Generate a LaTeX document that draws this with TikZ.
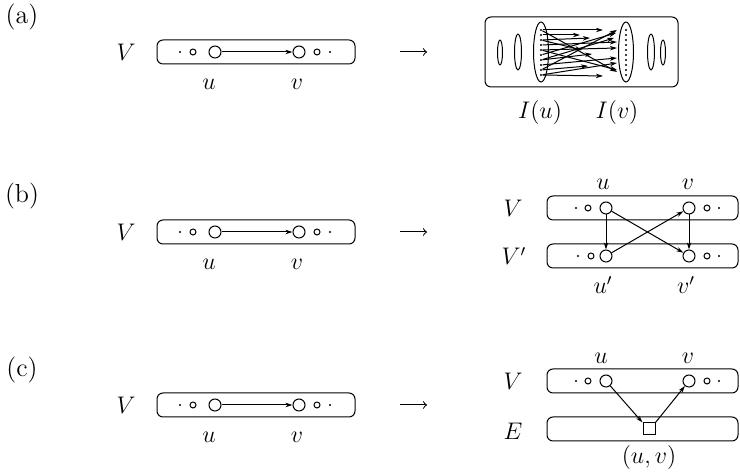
\documentclass[tikz,border=0pt]{standalone}
\usetikzlibrary{arrows.meta,shapes.geometric}
\begin{document}
\begin{tikzpicture}[x=0.5pt,y=-0.5pt,
  line width=0.5pt,
  every node/.style={font=\fontsize{11.5}{13}\selectfont},
  panel/.style={font=\fontsize{13}{15}\selectfont},
  setbox/.style={draw, rounded corners=3pt, inner sep=0pt},
  bigv/.style={draw, circle, minimum size=6pt, inner sep=0pt},
  smallv/.style={draw, circle, minimum size=3pt, inner sep=0pt},
  tinyv/.style={fill, circle, minimum size=1.1pt, inner sep=0pt},
  oval/.style={draw, ellipse, inner sep=0pt},
  edge/.style={-{Stealth[length=3.5pt,width=2.2pt,inset=1pt]}},
  maparrow/.style={-to},
]
\useasboundingbox (0,0) rectangle (740,474);

% panel letters
\node[panel] (pa) at (22,17) {(a)};
\node[panel] (pb) at (22,196) {(b)};
\node[panel] (pc) at (22,370) {(c)};

% left column: the vertex set V with one edge u -> v, and the map arrow
\foreach \r/\yy in {a/52,b/232,c/405} {
  \node[setbox, minimum width=99pt, minimum height=12pt] (L\r box) at (256,\yy) {};
  \node (L\r V) at (126,\yy) {$V$};
  \node[tinyv]  (L\r d1) at (180,\yy) {};
  \node[smallv] (L\r s1) at (193,\yy) {};
  \node[bigv]   (L\r u)  at (215,\yy) {};
  \node[bigv]   (L\r v)  at (299,\yy) {};
  \node[smallv] (L\r s2) at (317,\yy) {};
  \node[tinyv]  (L\r d2) at (330,\yy) {};
  \draw[edge] (L\r u) -- (L\r v);
  \node (L\r ul) at (209,\yy+32) {$u$};
  \node (L\r vl) at (297,\yy+32) {$v$};
  \coordinate (M\r a) at (400,\yy);
  \coordinate (M\r b) at (427,\yy);
  \draw[maparrow] (M\r a) -- (M\r b);
}

% (a) right: intervals I(u), I(v) joined by many arcs
\node[setbox, minimum width=96.5pt, minimum height=35pt] (Rabox) at (581.5,52) {};
\node[oval, minimum width=2.5pt, minimum height=12.5pt] (o1) at (500,52.5) {};
\node[oval, minimum width=3.5pt, minimum height=18pt] (o2) at (518,52) {};
\node[oval, minimum width=7.5pt, minimum height=30pt] (Iu) at (541,52) {};
\node[oval, minimum width=7.5pt, minimum height=30pt] (Iv) at (626,52) {};
\node[oval, minimum width=3.5pt, minimum height=18pt] (o3) at (651,52) {};
\node[oval, minimum width=2.5pt, minimum height=12.5pt] (o4) at (663,52.5) {};
\foreach \i in {1,...,10} {
  \node[tinyv] (Ld\i) at (541,25+5*\i) {};
  \node[tinyv] (Rd\i) at (626,25+5*\i) {};
}
\foreach \s/\ex/\ey [count=\k] in {
  1/603/30, 1/617/72, 2/580/35, 3/590/38, 4/617/42, 5/617/48,
  6/616/33, 7/592/54, 9/617/30, 8/617/58, 9/588/66, 10/603/76,
  5/617/70, 10/617/63, 3/582/50, 7/614/38} {
  \coordinate (T\k) at (\ex,\ey);
  \draw[edge] (Ld\s) -- (T\k);
}
\node (Iul) at (540,113) {$I(u)$};
\node (Ivl) at (617,113) {$I(v)$};

% (b) right: two copies V and V'
\node[setbox, minimum width=95.5pt, minimum height=12pt] (RbV)  at (642.5,208) {};
\node[setbox, minimum width=95.5pt, minimum height=12pt] (RbVp) at (642.5,256) {};
\node (RbVl)  at (513,208) {$V$};
\node (RbVpl) at (514,256) {$V'$};
\node[tinyv]  (bd1) at (576,208) {};
\node[smallv] (bs1) at (588,208) {};
\node[bigv]   (bu)  at (606,208) {};
\node[bigv]   (bv)  at (689,208) {};
\node[smallv] (bs2) at (707,208) {};
\node[tinyv]  (bd2) at (719,208) {};
\node[tinyv]  (bd3) at (578,256) {};
\node[smallv] (bs3) at (591,256) {};
\node[bigv]   (bup) at (606,256) {};
\node[bigv]   (bvp) at (689,256) {};
\node[smallv] (bs4) at (707,256) {};
\node[tinyv]  (bd4) at (719,256) {};
\draw[edge] (bu) -- (bup);
\draw[edge] (bu) -- (bvp);
\draw[edge] (bup) -- (bv);
\draw[edge] (bv) -- (bvp);
\node (bul)  at (603,184) {$u$};
\node (bvl)  at (688,184) {$v$};
\node (bupl) at (603,285) {$u'$};
\node (bvpl) at (686,285) {$v'$};

% (c) right: V and the edge set E
\node[setbox, minimum width=95.5pt, minimum height=12pt] (RcV) at (642.5,381) {};
\node[setbox, minimum width=95.5pt, minimum height=12pt] (RcE) at (642.5,429) {};
\node (RcVl) at (513,381) {$V$};
\node (RcEl) at (513,431) {$E$};
\node[tinyv]  (cd1) at (576,381) {};
\node[smallv] (cs1) at (588,381) {};
\node[bigv]   (cu)  at (606,381) {};
\node[bigv]   (cv)  at (689,381) {};
\node[smallv] (cs2) at (707,381) {};
\node[tinyv]  (cd2) at (719,381) {};
\node[draw, minimum size=6pt, inner sep=0pt] (ce) at (649,429) {};
\draw[edge] (cu) -- (ce.north west);
\draw[edge] (ce.north east) -- (cv);
\node (cul) at (601,358) {$u$};
\node (cvl) at (688,358) {$v$};
\node (cel) at (649,458) {$(u,v)$};
\end{tikzpicture}
\end{document}
